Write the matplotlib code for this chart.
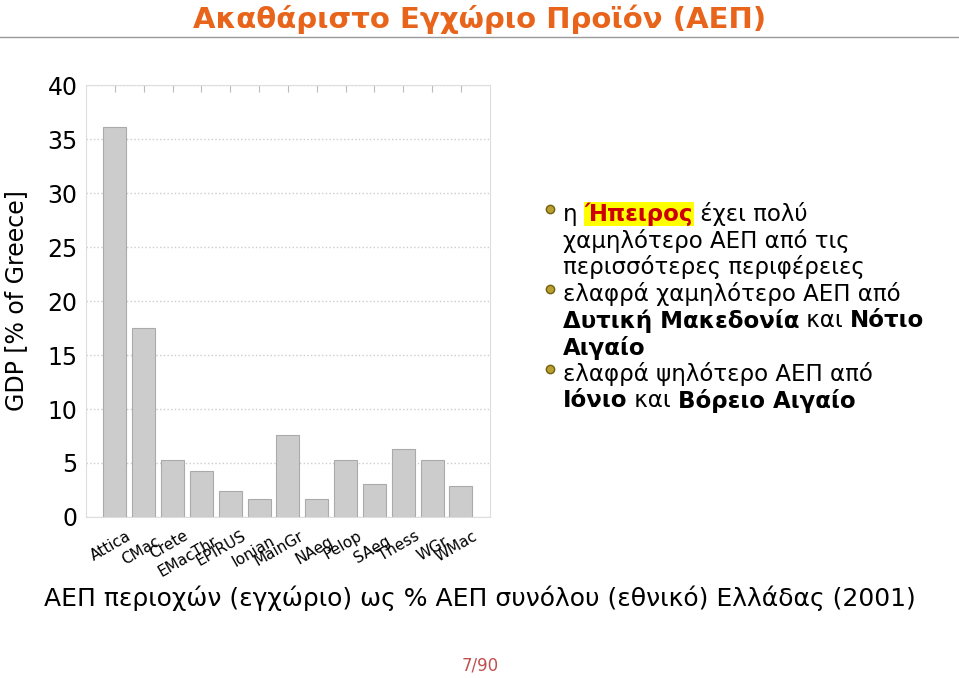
import matplotlib
matplotlib.use('Agg')
import matplotlib.pyplot as plt
from matplotlib.lines import Line2D

regions = ['Attica', 'CMac', 'Crete', 'EMacThr', 'EPIRUS', 'Ionian', 'MainGr',
           'NAeg', 'Pelop', 'SAeg', 'Thess', 'WGr', 'WMac']
gdp = [36.1, 17.5, 5.3, 4.3, 2.4, 1.7, 7.6, 1.7, 5.3, 3.1, 6.3, 5.3, 2.9]

bullets = [
    [('η ', 'normal', 'black', None), ('Ήπειρος', 'bold', '#cc0000', '#ffff00'),
     (' έχει πολύ', 'normal', 'black', None)],
    [('χαμηλότερο ΑΕΠ από τις', 'normal', 'black', None)],
    [('περισσότερες περιφέρειες', 'normal', 'black', None)],
    [('ελαφρά χαμηλότερο ΑΕΠ από', 'normal', 'black', None)],
    [('Δυτική Μακεδονία', 'bold', 'black', None), (' και ', 'normal', 'black', None),
     ('Νότιο', 'bold', 'black', None)],
    [('Αιγαίο', 'bold', 'black', None)],
    [('ελαφρά ψηλότερο ΑΕΠ από', 'normal', 'black', None)],
    [('Ιόνιο', 'bold', 'black', None), (' και ', 'normal', 'black', None),
     ('Βόρειο Αιγαίο', 'bold', 'black', None)],
]
bullet_lines = [0, 3, 6]

fig = plt.figure(figsize=(9.59, 6.78), dpi=100)
ax = fig.add_axes([0.0897, 0.2375, 0.421, 0.637])

x = range(len(regions))
ax.bar(x, gdp, width=0.8, color='#cccccc', edgecolor='#aaaaaa', linewidth=0.8, zorder=2)
ax.set_xlim(-1.0, len(regions))
ax.set_ylim(0, 40)
ax.set_yticks(range(0, 41, 5))
ax.tick_params(axis='y', labelsize=17, length=0, pad=6)
ax.set_xticks(list(x))
ax.set_xticklabels([])
ax.tick_params(axis='x', direction='in', length=5, color='#bbbbbb', top=True)
ax.grid(axis='y', linestyle=':', color='#cccccc', linewidth=1, zorder=0)
for s in ax.spines.values():
    s.set_color('#dddddd')
ax.set_ylabel('GDP [% of Greece]', fontsize=17, labelpad=14)
for i, name in enumerate(regions):
    off = -4 if i % 2 == 1 else 0
    ax.annotate(name, (i, 0), xycoords=('data', 'axes fraction'),
                xytext=(8, -8 + off), textcoords='offset points',
                rotation=30, ha='right', va='top', fontsize=11, rotation_mode='anchor')

fig.text(0.5, 0.972, 'Ακαθάριστο Εγχώριο Προϊόν (ΑΕΠ)', ha='center', va='center',
         fontsize=21, fontweight='bold', color='#e8641b')
fig.add_artist(Line2D([0.0, 1.0], [0.945, 0.945], color='#999999', lw=1))

fig.text(0.5, 0.117, 'ΑΕΠ περιοχών (εγχώριο) ως % ΑΕΠ συνόλου (εθνικό) Ελλάδας (2001)',
         ha='center', va='center', fontsize=18)
fig.text(0.501, 0.019, '7/90', ha='center', va='center', fontsize=12, color='#c05050')

# right-hand bullet text
fig.canvas.draw()
r = fig.canvas.get_renderer()
x0 = 563 / 959
y_top = 214
for li, pieces in enumerate(bullets):
    yy = 1 - (y_top + li * 26.7) / 678
    xx = x0
    for txt, w, c, bg in pieces:
        kw = {}
        if bg:
            kw['bbox'] = dict(facecolor=bg, edgecolor='none', pad=0.5)
        t = fig.text(xx, yy, txt, fontsize=16.5, fontweight=w, color=c, va='center', ha='left', **kw)
        bb = t.get_window_extent(renderer=r)
        xx += bb.width / 959
    if li in bullet_lines:
        fig.add_artist(Line2D([550 / 959], [yy + 0.008], marker='o', markersize=6,
                              markerfacecolor='#b8a030', markeredgecolor='#706010'))

fig.savefig('out.png', dpi=100)
